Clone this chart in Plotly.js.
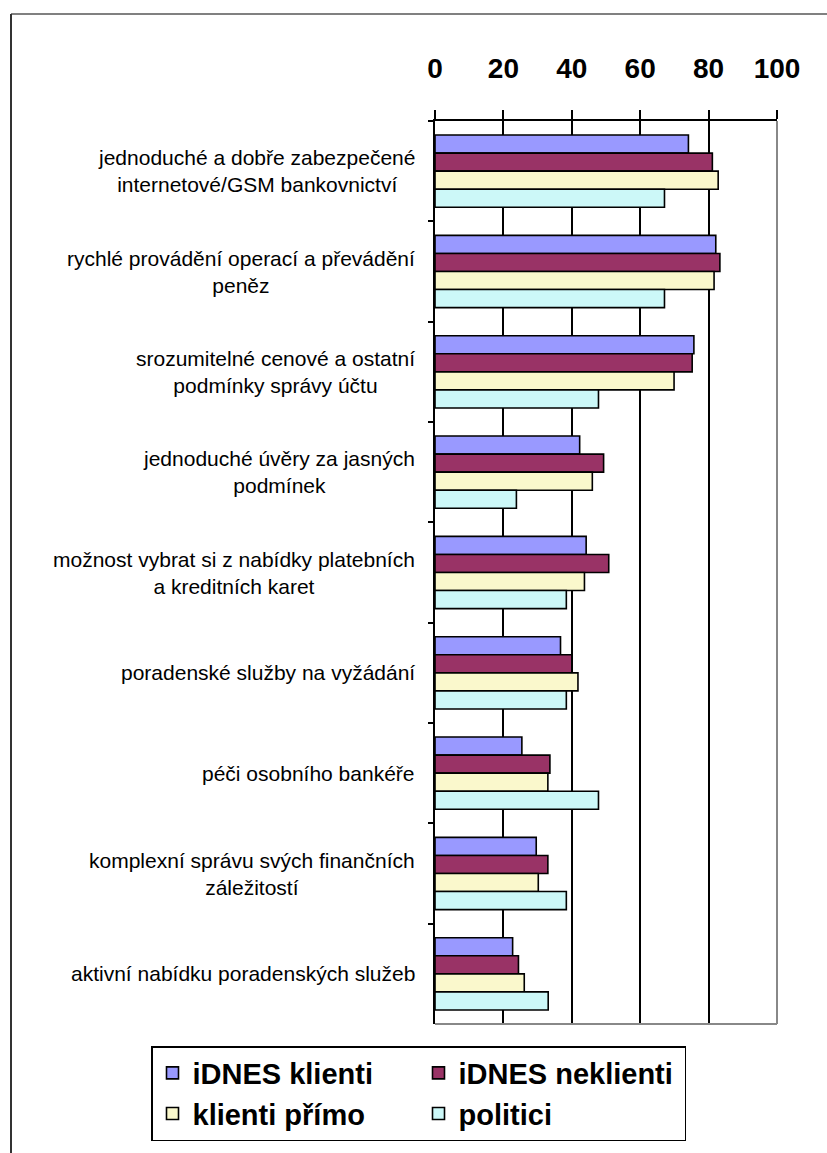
<!DOCTYPE html>
<html>
<head>
<meta charset="utf-8">
<script src="https://cdn.plot.ly/plotly-3.0.1.min.js"></script>
<style>html,body{margin:0;padding:0;background:#fff;}#chart{width:827px;height:1153px;}</style>
</head>
<body>
<div id="chart"></div>
<script>
var categories = [
  "jednoduché a dobře zabezpečené<br>internetové/GSM bankovnictví",
  "rychlé provádění operací a převádění<br>peněz",
  "srozumitelné cenové a ostatní<br>podmínky správy účtu",
  "jednoduché úvěry za jasných<br>podmínek",
  "možnost vybrat si z nabídky platebních<br>a kreditních karet",
  "poradenské služby na vyžádání",
  "péči osobního bankéře",
  "komplexní správu svých finančních<br>záležitostí",
  "aktivní nabídku poradenských služeb"
];
var seriesNames = ["iDNES klienti", "iDNES neklienti", "klienti přímo", "politici"];
var idnesKlienti   = [74.1, 82.1, 75.7, 42.3, 44.2, 36.7, 25.4, 29.6, 22.7];
var idnesNeklienti = [81.1, 83.3, 75.2, 49.3, 50.8, 40.0, 33.6, 33.0, 24.4];
var klientiPrimo   = [82.8, 81.6, 69.9, 46.0, 43.7, 41.8, 33.0, 30.2, 26.1];
var politici       = [67.1, 67.1, 47.8, 23.8, 38.4, 38.4, 47.8, 38.4, 33.1];
var tickValues = [0, 20, 40, 60, 80, 100];

var colors = ["#9999FF", "#993366", "#FAF8CC", "#CCF8F8"];
var seriesValues = [idnesKlienti, idnesNeklienti, klientiPrimo, politici];

var traces = seriesValues.map(function(vals, i){
  return {
    type: "bar",
    orientation: "h",
    name: seriesNames[i],
    x: vals,
    y: categories,
    marker: {color: colors[i], line: {color: "#000", width: 1.6}},
    hoverinfo: "x+name"
  };
});

var font = "Liberation Sans, Arial, sans-serif";

var annotations = categories.map(function(c){
  return {
    xref: "paper", yref: "y",
    x: (417-435)/342, y: c,
    xanchor: "right", yanchor: "middle",
    align: "center",
    text: c,
    showarrow: false,
    font: {family: font, size: 21, color: "#000"}
  };
});

var shapes = [
  {type: "line", xref: "paper", yref: "paper", x0: 1, x1: 1, y0: 0, y1: 1, line: {color: "#888", width: 2}},
  {type: "line", xref: "paper", yref: "paper", x0: 0, x1: 1, y0: 0, y1: 0, line: {color: "#888", width: 2}},
  {type: "line", xref: "paper", yref: "paper", x0: (11-435)/342, x1: 1.2, y0: (1024-14)/903, y1: (1024-14)/903, line: {color: "#808080", width: 2}},
  {type: "line", xref: "paper", yref: "paper", x0: (11-435)/342, x1: (11-435)/342, y0: (1024-14)/903, y1: -0.2, line: {color: "#333", width: 2}}
];

var layout = {
  width: 827, height: 1153,
  margin: {l: 435, r: 50, t: 121, b: 129},
  paper_bgcolor: "#fff", plot_bgcolor: "#fff",
  barmode: "group",
  bargap: 0.28,
  bargroupgap: 0,
  showlegend: true,
  xaxis: {
    side: "top",
    range: [0, 100],
    tickvals: tickValues,
    ticktext: tickValues.map(String),
    showgrid: true, gridcolor: "#000", gridwidth: 2,
    showline: true, linecolor: "#000", linewidth: 2,
    ticks: "outside", ticklen: 9, tickwidth: 2, tickcolor: "#000",
    ticklabelstandoff: 21,
    zeroline: false,
    tickfont: {family: font, size: 28, color: "#000", weight: "bold"},
    fixedrange: true
  },
  yaxis: {
    type: "category",
    autorange: "reversed",
    showticklabels: false,
    showline: true, linecolor: "#000", linewidth: 2,
    ticks: "outside", ticklen: 5, tickwidth: 2, tickcolor: "#000",
    tickson: "boundaries",
    showgrid: false,
    zeroline: false,
    fixedrange: true
  },
  legend: {
    orientation: "h",
    x: (151-435)/342, xanchor: "left",
    y: (1024-1046)/903, yanchor: "top",
    bordercolor: "#000", borderwidth: 1.5,
    bgcolor: "#fff",
    entrywidth: 221, entrywidthmode: "pixels",
    traceorder: "normal",
    font: {family: font, size: 29, color: "#000", weight: "bold"}
  },
  annotations: annotations,
  shapes: shapes
};

Plotly.newPlot("chart", traces, layout, {displayModeBar: false, staticPlot: true});
</script>
</body>
</html>
